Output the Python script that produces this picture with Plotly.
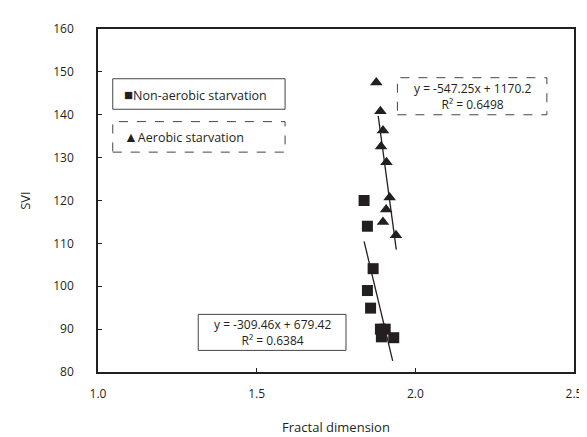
import plotly.graph_objects as go

# ---- data ----
nonaer_x = [1.8385, 1.849, 1.867, 1.849, 1.859, 1.89, 1.905, 1.893, 1.932]
nonaer_svi = [120.0, 114.0, 104.1, 99.0, 94.9, 90.0, 90.0, 88.2, 88.0]
aer_x = [1.877, 1.890, 1.898, 1.892, 1.909, 1.919, 1.908, 1.898, 1.939]
aer_svi = [147.5, 140.8, 136.3, 132.6, 128.9, 120.7, 117.9, 115.0, 111.9]

# trendline coefficients (slope, intercept) and x extents as printed/drawn
nonaer_fit = (-309.46, 679.42)
nonaer_fit_r2 = 0.6384
nonaer_fit_xrange = [1.8385, 1.9286]
aer_fit = (-547.25, 1170.2)
aer_fit_r2 = 0.6498
aer_fit_xrange = [1.883, 1.940]

x_ticks = [1.0, 1.5, 2.0, 2.5]
y_ticks = [80, 90, 100, 110, 120, 130, 140, 150, 160]
series_names = ["Non-aerobic starvation", "Aerobic starvation"]

INK = "#231f20"
FONT = "Open Sans, Noto Sans, sans-serif"

fig = go.Figure()

fig.add_trace(go.Scatter(x=nonaer_x, y=nonaer_svi, mode="markers",
                         marker=dict(symbol="square", size=11, color=INK),
                         showlegend=False, name=series_names[0]))
fig.add_trace(go.Scatter(x=aer_x, y=aer_svi, mode="markers",
                         marker=dict(symbol="triangle-up", size=11, color=INK),
                         showlegend=False, name=series_names[1]))

for (m, b), xr in [(nonaer_fit, nonaer_fit_xrange), (aer_fit, aer_fit_xrange)]:
    fig.add_trace(go.Scatter(x=xr, y=[m * xr[0] + b, m * xr[1] + b], mode="lines",
                             line=dict(color=INK, width=1.3), showlegend=False,
                             hoverinfo="skip"))

axis_common = dict(showgrid=False, zeroline=False, showline=True, mirror=True,
                   linecolor=INK, linewidth=1.6, ticks="inside", ticklen=4,
                   tickcolor=INK, tickwidth=1,
                   tickfont=dict(family=FONT, size=12, color=INK))

fig.update_xaxes(range=[1.0, 2.5], tickvals=x_ticks,
                 ticktext=[f"{v:.1f}" for v in x_ticks],
                 title=dict(text="Fractal dimension", standoff=22,
                            font=dict(family=FONT, size=13, color=INK)),
                 ticklabelstandoff=10, **axis_common)
fig.update_yaxes(range=[80, 160], tickvals=y_ticks,
                 title=dict(text="SVI", standoff=20,
                            font=dict(family=FONT, size=13, color=INK)),
                 ticklabelstandoff=20, **axis_common)

shapes = [
    dict(type="rect", xref="paper", yref="paper", x0=0.031, x1=0.393, y0=0.766, y1=0.855,
         line=dict(color="#444", width=1)),
    dict(type="rect", xref="paper", yref="paper", x0=0.031, x1=0.393, y0=0.641, y1=0.730,
         line=dict(color="#444", width=1, dash="dash")),
    dict(type="rect", xref="paper", yref="paper", x0=0.629, x1=0.943, y0=0.750, y1=0.858,
         line=dict(color="#444", width=1, dash="dash")),
    dict(type="rect", xref="paper", yref="paper", x0=0.2106, x1=0.521, y0=0.063, y1=0.168,
         line=dict(color="#444", width=1)),
]

def txt(x, y, s, anchor="center", size=12):
    return dict(xref="paper", yref="paper", x=x, y=y, xanchor=anchor, yanchor="middle",
                text=s, showarrow=False, font=dict(family=FONT, size=size, color=INK))

annotations = [
    txt(0.050, 0.811, "<span style='font-size:15px'>■</span>" + series_names[0], "left", 12.5),
    txt(0.050, 0.688, "<span style='font-size:14px'>▲</span>" + series_names[1], "left", 12.5),
    txt(0.786, 0.802, f"y = {aer_fit[0]:.2f}x + {aer_fit[1]:.1f}<br>R² = {aer_fit_r2:.4f}",
        size=12),
    txt(0.366, 0.115, f"y = {nonaer_fit[0]:.2f}x + {nonaer_fit[1]:.2f}<br>R² = {nonaer_fit_r2:.4f}",
        size=12),
]

fig.update_layout(width=587, height=437, margin=dict(l=90, r=14, t=13, b=65),
                  paper_bgcolor="white", plot_bgcolor="white",
                  shapes=shapes, annotations=annotations,
                  font=dict(family=FONT, color=INK))

fig.write_html("out.html")
